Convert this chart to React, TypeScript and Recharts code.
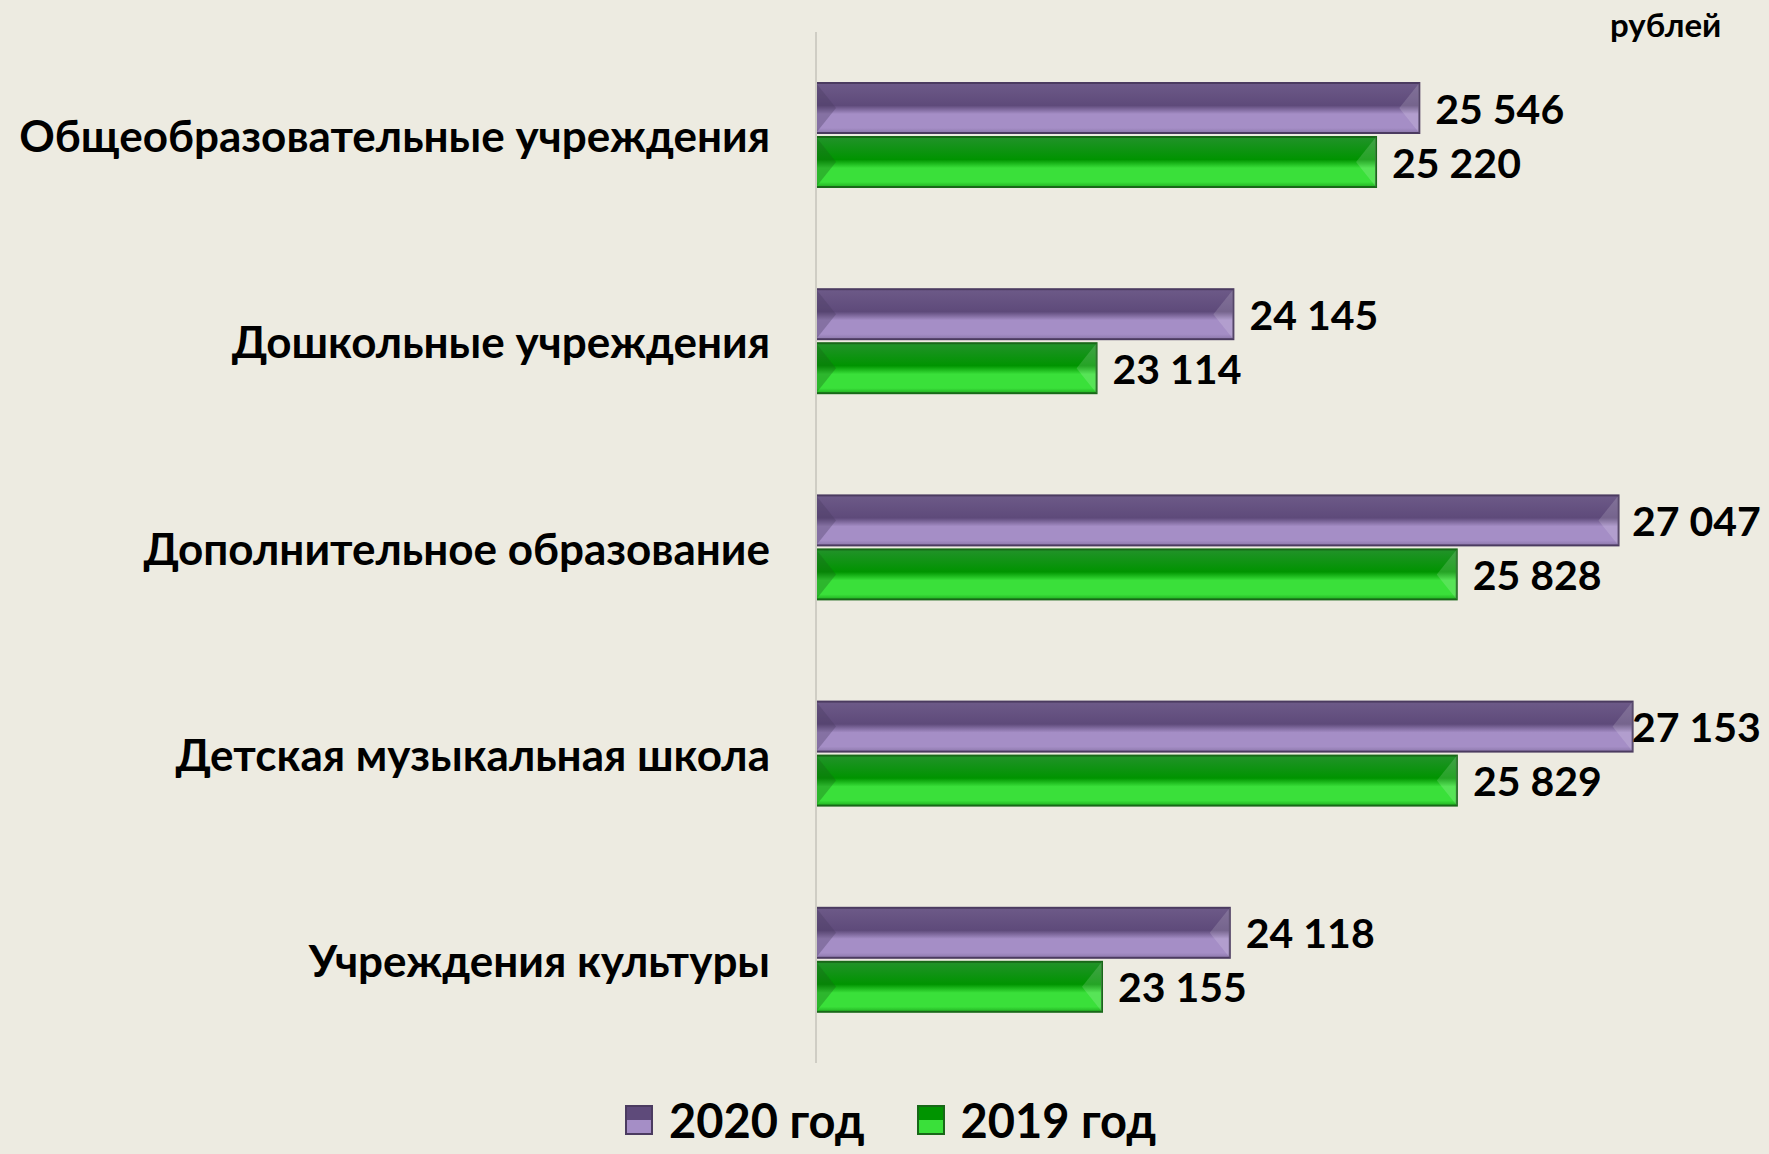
import { Bar, BarChart, LabelList, XAxis, YAxis } from "recharts";

const categories = [
  "Общеобразовательные учреждения",
  "Дошкольные учреждения",
  "Дополнительное образование",
  "Детская музыкальная школа",
  "Учреждения культуры",
];
const values2020 = [25546, 24145, 27047, 27153, 24118];
const values2019 = [25220, 23114, 25828, 25829, 23155];
const seriesNames = ["2020 год", "2019 год"];

const FONT = "Lato, 'Open Sans', sans-serif";

const palette = {
  y2020: { top: "#6d5a88", mid: "#5e4a7a", low: "#a58ec6", edge: "#8c78ab", border: "#4b3b60" },
  y2019: { top: "#22922a", mid: "#009400", low: "#3ae03a", edge: "#20b020", border: "#186818" },
};

const data = categories.map((name, i) => ({
  name,
  y2020: values2020[i],
  y2019: values2019[i],
}));

const fmt = (v: number) => String(v).replace(/\B(?=(\d{3})+(?!\d))/g, " ");

function BevelBar(props: any) {
  const { x, y, width, height, dataKey } = props;
  if (!width || width <= 0) return null;
  const c = palette[dataKey as "y2020" | "y2019"];
  const id = "grad-" + dataKey;
  const b = Math.min(10, height / 3);
  return (
    <g>
      <defs>
        <linearGradient id={id} x1="0" y1="0" x2="0" y2="1">
          <stop offset="0" stopColor={c.top} />
          <stop offset="0.45" stopColor={c.mid} />
          <stop offset="0.62" stopColor={c.low} />
          <stop offset="0.9" stopColor={c.low} />
          <stop offset="1" stopColor={c.edge} />
        </linearGradient>
      </defs>
      <rect x={x} y={y} width={width} height={height} fill={`url(#${id})`} stroke={c.border} strokeWidth={2} />
      <polygon
        points={`${x},${y} ${x + b * 2},${y + height / 2} ${x},${y + height}`}
        fill={c.border}
        opacity={0.35}
      />
      <polygon
        points={`${x + width},${y} ${x + width - b * 2},${y + height / 2} ${x + width},${y + height}`}
        fill="#ffffff"
        opacity={0.15}
      />
    </g>
  );
}

function CategoryTick(props: any) {
  const { x, y, payload } = props;
  return (
    <text x={x} y={y} textAnchor="end" dominantBaseline="central" fontFamily={FONT} fontWeight={700} fontSize={44} fill="#000">
      {payload.value}
    </text>
  );
}

// labels of the longest bars get pushed left so they stay on the page
function ValueLabel(props: any) {
  const { x, y, width, height, value } = props;
  const lx = Math.min(x + width + 16, 1632);
  return (
    <text x={lx} y={y + height / 2} dominantBaseline="central" fontFamily={FONT} fontWeight={700} fontSize={41} fill="#000">
      {fmt(value)}
    </text>
  );
}

function LegendSwatch({ k }: { k: "y2020" | "y2019" }) {
  const c = palette[k];
  return (
    <span
      style={{
        display: "inline-block",
        width: 28,
        height: 30,
        background: `linear-gradient(${c.mid}, ${c.mid} 50%, ${c.low} 50%)`,
        border: `2px solid ${c.border}`,
        boxSizing: "border-box",
        marginRight: 16,
      }}
    />
  );
}

export default function App() {
  return (
    <div style={{ position: "absolute", left: 0, top: 0, width: 1769, height: 1154, background: "#edebe1", overflow: "hidden" }}>
      <BarChart
        width={1769}
        height={1154}
        data={data}
        layout="vertical"
        margin={{ top: 32, right: 24, bottom: 91, left: 0 }}
        barSize={50}
        barGap={4}
      >
        <XAxis type="number" domain={[21000, 28000]} hide />
        <YAxis
          type="category"
          dataKey="name"
          width={816}
          tickLine={false}
          tickSize={0}
          tickMargin={46}
          axisLine={{ stroke: "#cfcdc4", strokeWidth: 2 }}
          tick={<CategoryTick />}
        />
        <Bar dataKey="y2020" name={seriesNames[0]} shape={<BevelBar dataKey="y2020" />} isAnimationActive={false}>
          <LabelList dataKey="y2020" content={<ValueLabel />} />
        </Bar>
        <Bar dataKey="y2019" name={seriesNames[1]} shape={<BevelBar dataKey="y2019" />} isAnimationActive={false}>
          <LabelList dataKey="y2019" content={<ValueLabel />} />
        </Bar>
      </BarChart>
      <div style={{ position: "absolute", left: 1610, top: 4, fontFamily: FONT, fontWeight: 700, fontSize: 33, color: "#000" }}>
        рублей
      </div>
      <div
        style={{
          position: "absolute",
          left: 625,
          top: 1092,
          display: "flex",
          alignItems: "center",
          fontFamily: FONT,
          fontWeight: 700,
          fontSize: 47,
          color: "#000",
          lineHeight: "56px",
        }}
      >
        <LegendSwatch k="y2020" />
        <span style={{ marginRight: 52 }}>{seriesNames[0]}</span>
        <LegendSwatch k="y2019" />
        <span>{seriesNames[1]}</span>
      </div>
    </div>
  );
}
